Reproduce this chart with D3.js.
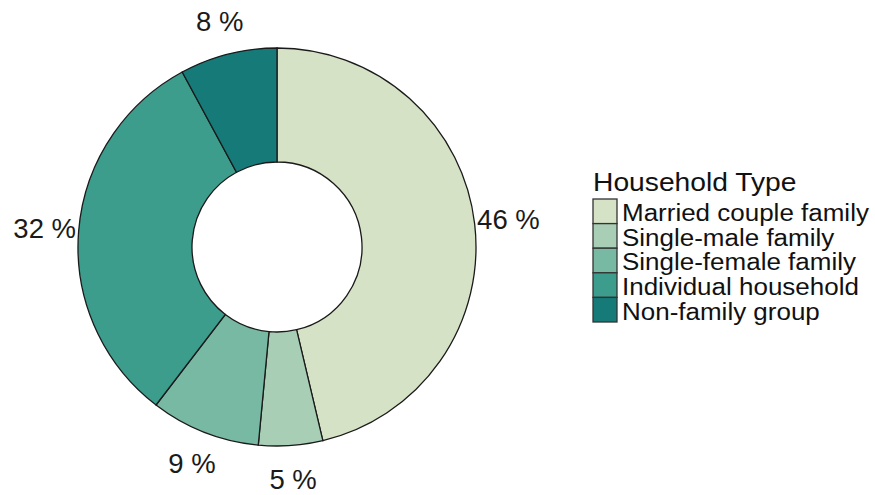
<!doctype html>
<html>
<head>
<meta charset="utf-8">
<title>Household Type</title>
<style>
  body { margin: 0; background: #fff; font-family: "Liberation Sans", Arial, sans-serif; }
</style>
<script src="https://d3js.org/d3.v7.min.js"></script>
</head>
<body>
<div id="plot"></div>
<script>
// data
const categories = ["Married couple family", "Single-male family", "Single-female family", "Individual household", "Non-family group"];
const shares = [46.3, 5.2, 8.9, 31.7, 7.9];
const labels = ["46 %", "5 %", "9 %", "32 %", "8 %"];
const colours = ["#d5e2c6", "#a8ceb5", "#77b9a3", "#3c9d8d", "#167a79"];

const width = 875, height = 495;
const cx = 277, cy = 247, rOuter = 199, rInner = 85, rLabel = 233;

const svg = d3.select("#plot").append("svg")
  .attr("width", width)
  .attr("height", height);

const data = categories.map((c, i) => ({ cat: c, value: shares[i], label: labels[i] }));

const pie = d3.pie().value(d => d.value).sort(null);
const arc = d3.arc().innerRadius(rInner).outerRadius(rOuter);
const labelArc = d3.arc().innerRadius(rLabel).outerRadius(rLabel);

const colour = d3.scaleOrdinal().domain(categories).range(colours);

const g = svg.append("g").attr("transform", `translate(${cx},${cy})`);

g.selectAll("path.slice")
  .data(pie(data))
  .enter()
  .append("path")
    .attr("class", "slice")
    .attr("d", arc)
    .style("fill", d => colour(d.data.cat))
    .style("stroke", "#1a1a1a")
    .style("stroke-width", 1.3);

g.selectAll("text.lab")
  .data(pie(data))
  .enter()
  .append("text")
    .attr("class", "lab")
    .attr("transform", d => `translate(${labelArc.centroid(d)})`)
    .attr("text-anchor", "middle")
    .attr("dominant-baseline", "central")
    .style("font-size", "27.5px")
    .style("fill", "#1a1a1a")
    .text(d => d.data.label);

// legend (text in the original is a bit wide, so stretch it horizontally)
const legend = svg.append("g").attr("transform", "translate(593,199)");
const keySize = 24.6;
const stretch = 1.13;

legend.append("g")
  .attr("transform", `translate(0,-8) scale(${stretch},1)`)
  .append("text")
    .style("font-size", "25px")
    .style("fill", "#111")
    .text("Household Type");

const rows = legend.selectAll("g.row")
  .data(categories)
  .enter()
  .append("g")
    .attr("class", "row")
    .attr("transform", (d, i) => `translate(0,${i * keySize})`);

rows.append("rect")
  .attr("width", 24)
  .attr("height", keySize)
  .style("fill", d => colour(d))
  .style("stroke", "#333")
  .style("stroke-width", 1.3);

rows.append("g")
  .attr("transform", `translate(29,${keySize - 2.5}) scale(${stretch},1)`)
  .append("text")
    .style("font-size", "23px")
    .style("fill", "#111")
    .text(d => d);
</script>
</body>
</html>
